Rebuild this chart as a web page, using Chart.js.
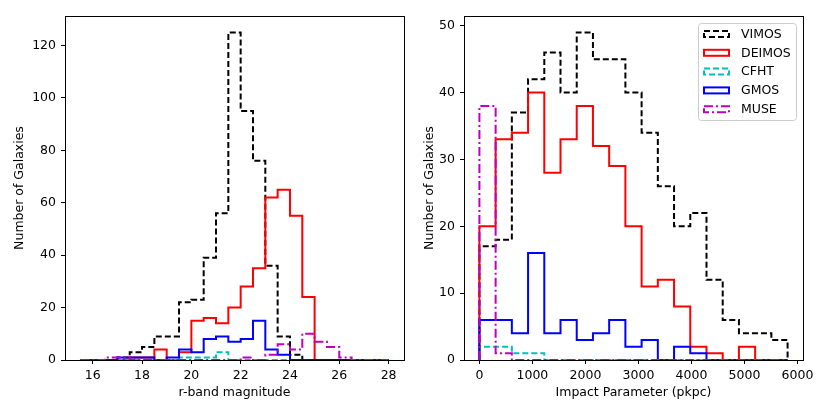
<!DOCTYPE html>
<html>
<head>
<meta charset="utf-8">
<script src="https://cdn.jsdelivr.net/npm/chart.js@4.4.0/dist/chart.umd.min.js"></script>
<style>
  html, body { margin: 0; padding: 0; background: #fff; }
  #wrap { position: relative; width: 830px; height: 415px; }
  canvas { position: absolute; top: 0; }
</style>
</head>
<body>
<div id="wrap">
  <canvas id="magChart" width="415" height="415" style="left:0"></canvas>
  <canvas id="ipChart" width="415" height="415" style="left:415px"></canvas>
</div>
<script>
// survey histograms: r-band magnitude (left) and impact parameter (right)

const surveys = ["VIMOS", "DEIMOS", "CFHT", "GMOS", "MUSE"];
const surveyColors = ["#000000", "#ff0000", "#00bfbf", "#0000ff", "#bf00bf"];
const surveyDashes = [[6, 3], [], [6, 3], [], [9, 3, 2, 3]];

// left panel: bin edges + counts per bin
const magBins = [15.5, 16, 16.5, 17, 17.5, 18, 18.5, 19, 19.5, 20, 20.5, 21, 21.5,
                 22, 22.5, 23, 23.5, 24, 24.5, 25, 25.5, 26, 26.5, 27, 27.5, 28];
const magVIMOS  = [0, 0, 0, 1, 3, 5, 9, 9, 22, 23, 39, 56, 125, 95, 76, 36, 9, 2, 0, 0, 0, 0, 0, 0, 0];
const magDEIMOS = [0, 0, 0, 0, 1, 1, 4, 0, 3, 15, 16, 14, 20, 28, 35, 62, 65, 55, 24, 0, 0, 0, 0, 0, 0];
const magCFHT   = [0, 0, 0, 0, 0, 0, 0, 0, 1, 1, 1, 3, 0, 0, 0, 0, 0, 0, 0, 0, 0, 0, 0, 0, 0];
const magGMOS   = [0, 0, 0, 1, 1, 1, 0, 1, 4, 3, 8, 9, 7, 8, 15, 4, 2, 0, 0, 0, 0, 0, 0, 0, 0];
const magMUSE   = [0, 0, 1, 1, 0, 0, 0, 0, 0, 0, 0, 0, 0, 1, 0, 2, 6, 4, 10, 7, 5, 1, 0, 0, 0];
const magTicksX = [16, 18, 20, 22, 24, 26, 28];
const magTicksY = [0, 20, 40, 60, 80, 100, 120];

// right panel
const ipBins = [0, 306, 612, 918, 1224, 1530, 1836, 2142, 2448, 2754, 3060,
                3366, 3672, 3978, 4284, 4590, 4896, 5202, 5508, 5814];
const ipVIMOS  = [17, 18, 37, 42, 46, 40, 49, 45, 45, 40, 34, 26, 20, 22, 12, 6, 4, 4, 3];
const ipDEIMOS = [20, 33, 34, 40, 28, 33, 38, 32, 29, 20, 11, 12, 8, 2, 1, 0, 2, 0, 0];
const ipCFHT   = [2, 2, 1, 1, 0, 0, 0, 0, 0, 0, 0, 0, 0, 0, 0, 0, 0, 0, 0];
const ipGMOS   = [6, 6, 4, 16, 4, 6, 3, 4, 6, 2, 3, 0, 2, 1, 0, 0, 0, 0, 0];
const ipMUSE   = [38, 1, 0, 0, 0, 0, 0, 0, 0, 0, 0, 0, 0, 0, 0, 0, 0, 0, 0];
const ipTicksX = [0, 1000, 2000, 3000, 4000, 5000, 6000];
const ipTicksY = [0, 10, 20, 30, 40, 50];

const FONT_SIZE = 12.5;
Chart.defaults.font.family = "'DejaVu Sans', sans-serif";
Chart.defaults.font.size = FONT_SIZE;
Chart.defaults.color = "#000";

// matplotlib-style step outline
function stepLine(edges, counts) {
  const pts = [{ x: edges[0], y: 0 }];
  counts.forEach((c, i) => {
    pts.push({ x: edges[i], y: c }, { x: edges[i + 1], y: c });
  });
  pts.push({ x: edges[edges.length - 1], y: 0 });
  return pts;
}

function makeDatasets(edges, seriesList) {
  return seriesList.map((counts, i) => ({
    label: surveys[i],
    data: stepLine(edges, counts),
    borderColor: surveyColors[i],
    borderDash: surveyDashes[i],
    borderWidth: 2,
    borderJoinStyle: "miter",
    pointRadius: 0,
    tension: 0,
    fill: false,
    order: seriesList.length - i   // later surveys on top
  }));
}

const framePlugin = {
  id: "frame",
  afterDraw(chart) {
    const { ctx, chartArea: a } = chart;
    ctx.save();
    ctx.strokeStyle = "#000";
    ctx.lineWidth = 1;
    ctx.strokeRect(Math.round(a.left) + 0.5, Math.round(a.top) + 0.5,
                   Math.round(a.right - a.left), Math.round(a.bottom - a.top));
    ctx.restore();
  }
};

const legendPlugin = {
  id: "boxLegend",
  afterDraw(chart) {
    const { ctx, chartArea: a } = chart;
    const bx = a.right - 105, by = a.top + 7, bw = 98, bh = 97;
    ctx.save();
    ctx.beginPath();
    ctx.roundRect(bx + 0.5, by + 0.5, bw, bh, 3);
    ctx.fillStyle = "rgba(255,255,255,0.8)";
    ctx.fill();
    ctx.strokeStyle = "#cccccc";
    ctx.lineWidth = 1;
    ctx.stroke();
    ctx.font = FONT_SIZE + "px 'DejaVu Sans', sans-serif";
    ctx.textBaseline = "middle";
    surveys.forEach((name, i) => {
      const yy = by + 11 + i * 18.8;
      ctx.strokeStyle = surveyColors[i];
      ctx.lineWidth = 2;
      ctx.setLineDash(surveyDashes[i]);
      ctx.strokeRect(bx + 6, yy - 3, 25, 6);
      ctx.setLineDash([]);
      ctx.fillStyle = "#000";
      ctx.fillText(name, bx + 43, yy + 0.5);
    });
    ctx.restore();
  }
};

function axisOptions(xMin, xMax, xTicks, yMax, yTicks, xTitle, yWidth, yTitlePad) {
  const tickGrid = { display: true, drawOnChartArea: false, drawTicks: true,
                     tickLength: 4, color: "#000", tickWidth: 1 };
  return {
    x: {
      type: "linear", min: xMin, max: xMax,
      afterBuildTicks: s => { s.ticks = xTicks.map(v => ({ value: v })); },
      afterFit: s => { s.height = 40; },
      ticks: { padding: 4, maxRotation: 0, autoSkip: false, callback: v => String(v) },
      grid: tickGrid,
      border: { display: false },
      title: { display: true, text: xTitle, padding: { top: 0, bottom: 0 } }
    },
    y: {
      type: "linear", min: 0, max: yMax,
      afterBuildTicks: s => { s.ticks = yTicks.map(v => ({ value: v })); },
      afterFit: s => { s.width = yWidth; },
      ticks: { padding: 5, autoSkip: false, callback: v => String(v) },
      grid: tickGrid,
      border: { display: false },
      title: { display: true, text: "Number of Galaxies", padding: { top: yTitlePad, bottom: 0 } }
    }
  };
}

new Chart(document.getElementById("magChart"), {
  type: "line",
  data: { datasets: makeDatasets(magBins, [magVIMOS, magDEIMOS, magCFHT, magGMOS, magMUSE]) },
  options: {
    responsive: false,
    animation: false,
    layout: { padding: { top: 16, right: 11, bottom: 15, left: 0 } },
    scales: axisOptions(14.875, 28.625, magTicksX, 131.25, magTicksY, "r-band magnitude", 65, 12.5),
    plugins: { legend: { display: false }, tooltip: { enabled: false } }
  },
  plugins: [framePlugin]
});

new Chart(document.getElementById("ipChart"), {
  type: "line",
  data: { datasets: makeDatasets(ipBins, [ipVIMOS, ipDEIMOS, ipCFHT, ipGMOS, ipMUSE]) },
  options: {
    responsive: false,
    animation: false,
    layout: { padding: { top: 16, right: 27, bottom: 15, left: 0 } },
    scales: axisOptions(-290.7, 6104.7, ipTicksX, 51.45, ipTicksY, "Impact Parameter (pkpc)", 49, 7.5),
    plugins: { legend: { display: false }, tooltip: { enabled: false } }
  },
  plugins: [framePlugin, legendPlugin]
});
</script>
</body>
</html>
